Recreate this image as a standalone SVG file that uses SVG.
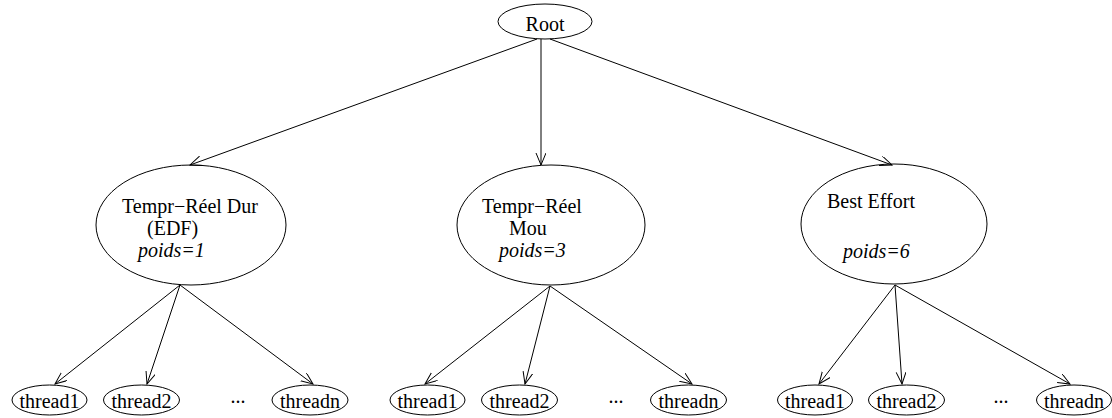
<svg xmlns="http://www.w3.org/2000/svg" width="1112" height="418" viewBox="0 0 1112 418">
<defs>
<style>
.n{fill:none;stroke:#000;stroke-width:1}
.t{font-family:"Liberation Serif","Times New Roman",serif;font-size:20px;fill:#000}
.i{font-style:italic}
.c{stroke:#000;stroke-width:1;fill:none;marker-end:url(#ah)}
</style>
<marker id="ah" markerUnits="userSpaceOnUse" markerWidth="16" markerHeight="12" refX="12" refY="5" orient="auto" viewBox="0 0 16 12">
<path d="M0,0 L12,5 L0,10" fill="none" stroke="#000" stroke-width="1"/>
</marker>
</defs>
<rect width="1112" height="418" fill="#fff"/>
<g id="connectors">
<line class="c" x1="537" y1="39" x2="190" y2="165"/>
<line class="c" x1="541" y1="39" x2="541" y2="165"/>
<line class="c" x1="550" y1="39" x2="892" y2="165"/>
<line class="c" x1="180" y1="285" x2="55" y2="384"/>
<line class="c" x1="180" y1="285" x2="147" y2="384"/>
<line class="c" x1="180" y1="285" x2="313" y2="384"/>
<line class="c" x1="550" y1="286" x2="425" y2="384"/>
<line class="c" x1="550" y1="286" x2="525" y2="384"/>
<line class="c" x1="550" y1="286" x2="692" y2="384"/>
<line class="c" x1="895" y1="285" x2="819" y2="384"/>
<line class="c" x1="895" y1="285" x2="902" y2="384"/>
<line class="c" x1="895" y1="285" x2="1070" y2="384"/>
</g>
<g id="root">
<ellipse class="n" cx="545" cy="21.5" rx="47" ry="17.5"/>
<text class="t" x="545" y="31" text-anchor="middle">Root</text>
</g>
<g id="hard">
<ellipse class="n" cx="191" cy="225" rx="95" ry="60"/>
<text class="t" x="122" y="213">Tempr−Réel Dur</text>
<text class="t" x="147" y="235">(EDF)</text>
<text class="t i" x="138" y="257">poids=1</text>
</g>
<g id="soft">
<ellipse class="n" cx="551" cy="225" rx="94" ry="60"/>
<text class="t" x="482" y="213">Tempr−Réel</text>
<text class="t" x="509" y="235">Mou</text>
<text class="t i" x="499" y="257">poids=3</text>
</g>
<g id="best">
<ellipse class="n" cx="894" cy="224" rx="93" ry="60"/>
<text class="t" x="827" y="208">Best Effort</text>
<text class="t i" x="843" y="258">poids=6</text>
</g>
<g id="h1"><ellipse class="n" cx="49.5" cy="400" rx="37.5" ry="15"/><text class="t" x="49.5" y="408" text-anchor="middle">thread1</text></g>
<g id="h2"><ellipse class="n" cx="141.5" cy="400" rx="38" ry="15"/><text class="t" x="141.5" y="408" text-anchor="middle">thread2</text></g>
<text class="t" x="238" y="403" text-anchor="middle">...</text>
<g id="hn"><ellipse class="n" cx="310" cy="400" rx="38" ry="15"/><text class="t" x="310" y="408" text-anchor="middle">threadn</text></g>
<g id="s1"><ellipse class="n" cx="427.5" cy="400" rx="37.5" ry="15"/><text class="t" x="427.5" y="408" text-anchor="middle">thread1</text></g>
<g id="s2"><ellipse class="n" cx="519.5" cy="400" rx="38" ry="15"/><text class="t" x="519.5" y="408" text-anchor="middle">thread2</text></g>
<text class="t" x="616" y="403" text-anchor="middle">...</text>
<g id="sn"><ellipse class="n" cx="688.5" cy="400" rx="38" ry="15"/><text class="t" x="688.5" y="408" text-anchor="middle">threadn</text></g>
<g id="b1"><ellipse class="n" cx="815" cy="400" rx="37.5" ry="15"/><text class="t" x="815" y="408" text-anchor="middle">thread1</text></g>
<g id="b2"><ellipse class="n" cx="906.5" cy="400" rx="38" ry="15"/><text class="t" x="906.5" y="408" text-anchor="middle">thread2</text></g>
<text class="t" x="1001" y="403" text-anchor="middle">...</text>
<g id="bn"><ellipse class="n" cx="1074" cy="400" rx="37.5" ry="15"/><text class="t" x="1074" y="408" text-anchor="middle">threadn</text></g>
</svg>
